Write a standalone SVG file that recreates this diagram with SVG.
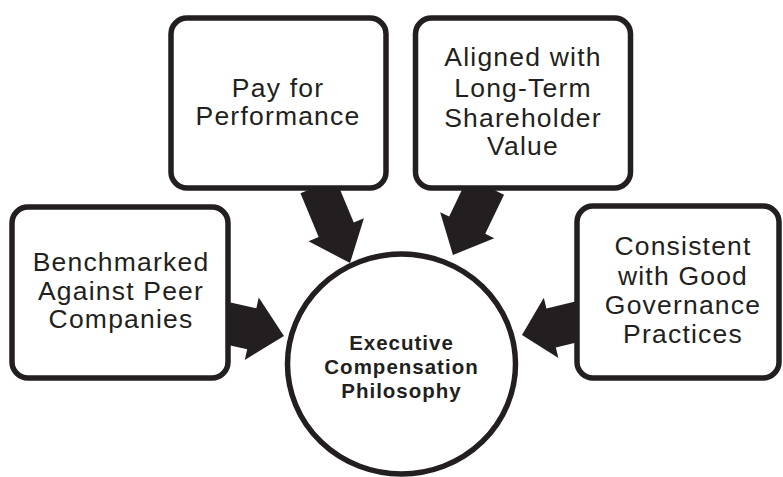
<svg xmlns="http://www.w3.org/2000/svg" width="783" height="477" viewBox="0 0 783 477">
<style>
.box{fill:#fff;stroke:#231f20;stroke-width:5.5}
.arrow{fill:#231f20}
.t{font-family:"Liberation Sans",Arial,sans-serif;font-size:26.5px;letter-spacing:1.2px;fill:#231f20;text-anchor:middle}
.c{font-family:"Liberation Sans",Arial,sans-serif;font-size:20.5px;letter-spacing:1px;font-weight:bold;fill:#231f20;text-anchor:middle}
</style>
<rect width="783" height="477" fill="#fff"/>
<g id="connectors">
<polygon class="arrow" transform="translate(226,323) rotate(12.6)" points="0,-21 26.4,-21 26.4,-32 59.4,0 26.4,32 26.4,21 0,21"/>
<polygon class="arrow" transform="translate(318,186) rotate(67.4)" points="0,-19 47.4,-19 47.4,-30 83.4,0 47.4,30 47.4,19 0,19"/>
<polygon class="arrow" transform="translate(486,186) rotate(115.6)" points="0,-20 43.5,-20 43.5,-30 76.5,0 43.5,30 43.5,20 0,20"/>
<polygon class="arrow" transform="translate(580,321) rotate(166.4)" points="0,-20 29.7,-20 29.7,-31 59.7,0 29.7,31 29.7,20 0,20"/>
</g>
<g id="node-benchmarked">
<rect class="box" x="12" y="207" width="216" height="171" rx="16"/>
<text class="t" x="121" y="271">Benchmarked</text>
<text class="t" x="121" y="300">Against Peer</text>
<text class="t" x="121" y="328">Companies</text>
</g>
<g id="node-pay">
<rect class="box" x="171" y="18" width="215" height="170" rx="16"/>
<text class="t" x="278" y="97">Pay for</text>
<text class="t" x="278" y="125">Performance</text>
</g>
<g id="node-aligned">
<rect class="box" x="415.5" y="18" width="215" height="170" rx="16"/>
<text class="t" x="523" y="66">Aligned with</text>
<text class="t" x="523" y="97">Long-Term</text>
<text class="t" x="523" y="127">Shareholder</text>
<text class="t" x="523" y="155">Value</text>
</g>
<g id="node-consistent">
<rect class="box" x="577" y="206" width="202" height="172" rx="16"/>
<text class="t" x="683" y="255">Consistent</text>
<text class="t" x="683" y="285">with Good</text>
<text class="t" x="683" y="314">Governance</text>
<text class="t" x="683" y="343">Practices</text>
</g>
<g id="node-center">
<ellipse class="box" cx="401.5" cy="364" rx="114" ry="110" stroke-width="5"/>
<text class="c" x="401.5" y="350">Executive</text>
<text class="c" x="401.5" y="374">Compensation</text>
<text class="c" x="401.5" y="398">Philosophy</text>
</g>
</svg>
